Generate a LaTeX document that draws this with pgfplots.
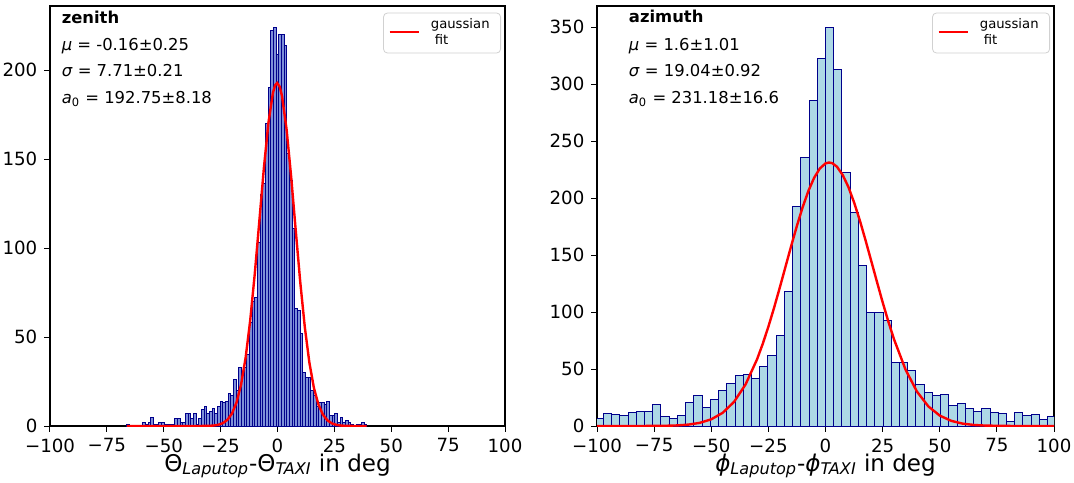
\documentclass[border=0pt]{standalone}
\usepackage{fontspec}
\setmainfont{DejaVu Sans}
\usepackage{pgfplots}
\pgfplotsset{compat=1.18}
\definecolor{barfill}{HTML}{ADD8E6}
\definecolor{barfillL}{HTML}{7D8FD8}
\definecolor{baredge}{HTML}{00008B}
\tikzset{ann/.style={anchor=base west, inner sep=0pt, font=\fontsize{8.2}{9.5}\selectfont}}
\pgfplotsset{
  histo/.style={
    height=210pt, scale only axis,
    xmin=-100, xmax=100, ymin=0,
    xtick={-100,-75,-50,-25,0,25,50,75,100},
    xticklabels={−100,−75,−50,−25,0,25,50,75,100},
    tick align=outside, xtick pos=left, ytick pos=left,
    major tick length=2.8pt,
    tick style={black, line width=0.5pt},
    axis line style={line width=0.6pt},
    ticklabel style={font=\fontsize{9.1}{10}\selectfont},
    label style={font=\fontsize{11.5}{13}\selectfont},
    xlabel style={at={(axis description cs:0.5,0)}, anchor=base, yshift=-22.5pt},
    legend style={at={(1,1)}, anchor=north east, xshift=-2pt, yshift=-3.3pt,
      draw=black!18, rounded corners=2pt, font=\fontsize{6.6}{7.9}\selectfont,
      cells={align=left}, inner xsep=2.5pt, inner ysep=1.6pt,
      nodes={inner xsep=0pt, inner ysep=1.2pt}},
    legend image code/.code={\draw[#1, line width=1.2pt] (0pt,0.5pt) -- (14.5pt,0.5pt);},
  },
  hbar/.style={ybar interval, fill=barfill, draw=baredge, line width=0.5pt},
  fitline/.style={red, line width=1.2pt},
}
\begin{document}
\begin{tikzpicture}
\useasboundingbox (-25pt,-28pt) rectangle (512pt,213pt);
% ---------------- zenith ----------------
\begin{axis}[histo, at={(0pt,0pt)}, anchor=south west, width=227.5pt,
  ymax=236, ytick={0,50,100,150,200}, yticklabels={0,50,100,150,200},
  xlabel={Θ\textsubscript{\textit{Laputop}}-Θ\textsubscript{\textit{TAXI}} in deg}]
\addplot[hbar, fill=barfillL, forget plot] coordinates {
(-66.20,1) (-65.03,0) (-63.86,0) (-62.69,0) (-61.52,0) (-60.34,0) (-59.17,2) (-58.00,1)
(-56.83,2) (-55.66,5) (-54.49,1) (-53.32,1) (-52.15,2) (-50.98,2) (-49.80,1) (-48.63,1)
(-47.46,1) (-46.29,1) (-45.12,4) (-43.95,4) (-42.78,2) (-41.61,2) (-40.44,7) (-39.26,7)
(-38.09,4) (-36.92,7) (-35.75,1) (-34.58,4) (-33.41,9) (-32.24,11) (-31.07,7) (-29.90,8)
(-28.72,10) (-27.55,7) (-26.38,11) (-25.21,14) (-24.04,13) (-22.87,14) (-21.70,18) (-20.53,17)
(-19.36,26) (-18.18,20) (-17.01,33) (-15.84,30) (-14.67,33) (-13.50,40) (-12.33,58) (-11.16,70)
(-9.99,72) (-8.82,103) (-7.65,130) (-6.47,136) (-5.30,170) (-4.13,190) (-2.96,222) (-1.79,224)
(-0.62,209) (0.55,220) (1.72,220) (2.89,214) (4.07,153) (5.24,138) (6.41,111) (7.58,66)
(8.75,65) (9.92,52) (11.09,30) (12.26,27) (13.43,27) (14.61,20) (15.78,17) (16.95,11)
(18.12,13) (19.29,13) (20.46,12) (21.63,14) (22.80,6) (23.97,6) (25.15,7) (26.32,2)
(27.49,5) (28.66,2) (29.83,3) (31.00,2) (32.17,1) (33.34,0) (34.51,1) (35.69,1)
(36.86,2) (38.03,1) (39.20,0)
};
\addplot[fitline] coordinates {
(-66.2,0) (-40,0) (-34,0.01) (-30,0.11) (-28,0.28) (-26,0.70) (-24,1.62) (-22,3.49)
(-20,7.03) (-18,13.26) (-16,23.37) (-14,38.49) (-12,59.29) (-10,85.37) (-8,114.9)
(-6,144.7) (-4,170.3) (-2,187.3) (-1,191.6) (-0.16,192.75) (1,190.6) (2,185.3)
(4,166.6) (6,140.1) (8,110.1) (10,80.9) (12,55.6) (14,35.7) (16,21.4) (18,12.03)
(20,6.32) (22,3.10) (24,1.42) (26,0.61) (28,0.24) (30,0.09) (34,0.01) (39.2,0)
};
\addlegendentry{\hspace*{5.5pt}gaussian\hspace*{3pt}\\\hspace*{5.5pt}\hspace*{0.3em}fit}
\node[ann, font=\bfseries\fontsize{8.2}{9.5}\selectfont] at (rel axis cs:0.025,0.9595) {zenith};
\node[ann] at (rel axis cs:0.025,0.8952) {\textit{μ} = -0.16±0.25};
\node[ann] at (rel axis cs:0.025,0.8310) {\textit{σ} = 7.71±0.21};
\node[ann] at (rel axis cs:0.025,0.7667) {\textit{a}\textsubscript{0} = 192.75±8.18};
\end{axis}
% ---------------- azimuth ----------------
\begin{axis}[histo, at={(273.5pt,0pt)}, anchor=south west, width=228.5pt,
  ymax=368.5, ytick={0,50,100,150,200,250,300,350}, yticklabels={0,50,100,150,200,250,300,350},
  xlabel={\textit{ϕ}\textsubscript{\textit{Laputop}}-\textit{ϕ}\textsubscript{\textit{TAXI}} in deg}]
\addplot[hbar, forget plot] coordinates {
(-100.8,7) (-97.2,11) (-93.6,10) (-90,9) (-86.4,12) (-82.8,13) (-79.2,13) (-75.6,19)
(-72,8) (-68.4,7) (-64.8,9) (-61.2,21) (-57.6,27) (-54,16) (-50.4,23) (-46.8,31)
(-43.2,37) (-39.6,44) (-36,45) (-32.4,42) (-28.8,52) (-25.2,62) (-21.6,79) (-18,118)
(-14.4,193) (-10.8,236) (-7.2,286) (-3.6,322) (0,350) (3.6,313) (7.2,222) (10.8,187)
(14.4,141) (18,100) (21.6,100) (25.2,93) (28.8,56) (32.4,56) (36,49) (39.6,36)
(43.2,29) (46.8,27) (50.4,28) (54,18) (57.6,20) (61.2,15) (64.8,13) (68.4,15)
(72,12) (75.6,11) (79.2,4) (82.8,12) (86.4,9) (90,10) (93.6,6) (97.2,8) (100.8,0)
};
\addplot[fitline] coordinates {
(-100,0) (-90,0) (-80,0.02) (-70,0.2) (-65,0.51) (-60,1.23) (-55,2.78) (-50,5.87)
(-45,11.57) (-40,21.24) (-35,36.43) (-30,58.31) (-27.5,71.9) (-25,87.13) (-22.5,103.8)
(-20,121.5) (-17.5,139.8) (-15,158.1) (-12.5,175.7) (-10,192.0) (-7.5,206.2) (-5,217.7)
(-2.5,225.9) (0,230.4) (1.6,231.18) (3,230.56) (5,227.5) (7.5,220.3) (10,209.8)
(12.5,196.2) (15,180.5) (17.5,163.1) (20,144.9) (22.5,126.6) (25,108.6) (27.5,91.65)
(30,76.0) (35,49.6) (40,30.25) (45,17.2) (50,9.14) (55,4.53) (60,2.09) (65,0.90)
(70,0.36) (80,0.05) (90,0.005) (100,0)
};
\addlegendentry{\hspace*{5.5pt}gaussian\hspace*{3pt}\\\hspace*{5.5pt}\hspace*{0.3em}fit}
\node[ann, font=\bfseries\fontsize{8.2}{9.5}\selectfont] at (rel axis cs:0.069,0.9595) {azimuth};
\node[ann] at (rel axis cs:0.069,0.8952) {\textit{μ} = 1.6±1.01};
\node[ann] at (rel axis cs:0.069,0.8310) {\textit{σ} = 19.04±0.92};
\node[ann] at (rel axis cs:0.069,0.7667) {\textit{a}\textsubscript{0} = 231.18±16.6};
\end{axis}
\end{tikzpicture}
\end{document}
